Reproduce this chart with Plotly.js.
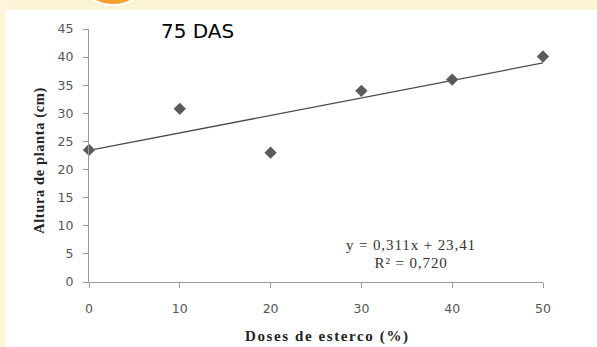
<!DOCTYPE html>
<html>
<head>
<meta charset="utf-8">
<script src="https://cdn.plot.ly/plotly-3.0.1.min.js"></script>
<style>html,body{margin:0;padding:0;background:#fff;}#chart{width:597px;height:347px;}</style>
</head>
<body>
<div id="chart"></div>
<script>
var doses = [0, 10, 20, 30, 40, 50];
var altura = [23.5, 30.8, 23.0, 34.0, 36.0, 40.1];
var slope = 0.311;
var intercept = 23.41;
var xTicks = [0, 10, 20, 30, 40, 50];
var yTicks = [0, 5, 10, 15, 20, 25, 30, 35, 40, 45];
var chartTitle = "75 DAS";
var xTitle = "Doses de esterco (%)";
var yTitle = "Altura de planta (cm)";
var eqLine1 = "y = 0,311x + 23,41";
var eqLine2 = "R² = 0,720";

var fitX = [doses[0], doses[doses.length - 1]];
var fitY = fitX.map(function (x) { return slope * x + intercept; });

var traces = [
  {
    x: fitX, y: fitY, type: 'scatter', mode: 'lines',
    line: {color: '#4a4a4a', width: 1.3}, hoverinfo: 'skip', cliponaxis: false
  },
  {
    x: doses, y: altura, type: 'scatter', mode: 'markers',
    marker: {symbol: 'diamond', size: 9.5, color: '#5a5a5a'}, cliponaxis: false
  }
];

var tickFont = {family: 'DejaVu Sans', size: 12.5, color: '#555555'};
var layout = {
  width: 597, height: 347,
  margin: {l: 89, r: 54, t: 29, b: 65, pad: 0},
  paper_bgcolor: '#ffffff', plot_bgcolor: 'rgba(0,0,0,0)',
  showlegend: false,
  xaxis: {
    range: [0, 50], tickvals: xTicks, ticktext: xTicks.map(String),
    showgrid: false, zeroline: false, showline: true, linecolor: '#999999', linewidth: 1,
    ticks: 'outside', ticklen: 5, tickcolor: '#999999', tickfont: tickFont,
    ticklabelstandoff: 10, fixedrange: true
  },
  yaxis: {
    range: [0, 45], tickvals: yTicks, ticktext: yTicks.map(String),
    showgrid: false, zeroline: false, showline: true, linecolor: '#999999', linewidth: 1,
    ticks: 'outside', ticklen: 5, tickcolor: '#999999', tickfont: tickFont,
    ticklabelstandoff: 7, fixedrange: true
  },
  shapes: [
    {type: 'rect', xref: 'paper', yref: 'paper', xsizemode: 'pixel', ysizemode: 'pixel',
     xanchor: 0, yanchor: 1, x0: -89, x1: 508, y0: 19, y1: 29,
     fillcolor: '#fcf4d6', line: {width: 0}, layer: 'below'},
    {type: 'rect', xref: 'paper', yref: 'paper', xsizemode: 'pixel', ysizemode: 'pixel',
     xanchor: 0, yanchor: 1, x0: -89, x1: -83, y0: -320, y1: 29,
     fillcolor: '#fdf6dc', line: {width: 0}, layer: 'below'},
    {type: 'circle', xref: 'paper', yref: 'paper', xsizemode: 'pixel', ysizemode: 'pixel',
     xanchor: 0, yanchor: 1, x0: -12, x1: 60, y0: 24, y1: 90,
     fillcolor: '#f7a030', line: {color: '#ffffff', width: 2}, layer: 'below'}
  ],
  annotations: [
    {text: chartTitle, xref: 'paper', yref: 'paper', x: 0.16, xshift: -3, y: 1.0, xanchor: 'left', yanchor: 'middle',
     yshift: -2, showarrow: false, font: {family: 'DejaVu Sans', size: 20, color: '#000000'}},
    {text: xTitle, xref: 'paper', yref: 'paper', x: 0.5, xshift: 11, y: 0, yshift: -54, xanchor: 'center', yanchor: 'middle',
     showarrow: false, font: {family: 'Liberation Serif', size: 15, color: '#222222', weight: 'bold'}},
    {text: yTitle, xref: 'paper', yref: 'paper', x: 0, xshift: -49, y: 0.48, xanchor: 'center', yanchor: 'middle',
     textangle: -90, showarrow: false, font: {family: 'Liberation Serif', size: 14.5, color: '#222222', weight: 'bold'}},
    {text: eqLine1, xref: 'x', yref: 'y', x: 35.5, y: 6.5, xanchor: 'center', yanchor: 'middle',
     showarrow: false, font: {family: 'Liberation Serif', size: 15, color: '#333333'}},
    {text: eqLine2, xref: 'x', yref: 'y', x: 35.5, y: 3.3, xanchor: 'center', yanchor: 'middle',
     showarrow: false, font: {family: 'Liberation Serif', size: 15, color: '#333333'}}
  ]
};

Plotly.newPlot('chart', traces, layout, {displayModeBar: false, staticPlot: true}).then(function (gd) {
  var spacing = {};
  spacing[xTitle] = '1.6px';
  spacing[yTitle] = '0.6px';
  spacing[eqLine1] = '0.9px';
  spacing[eqLine2] = '0.9px';
  document.querySelectorAll('#chart .annotation-text').forEach(function (t) {
    var s = spacing[t.textContent];
    if (s) { t.style.letterSpacing = s; }
  });
});
</script>
</body>
</html>
